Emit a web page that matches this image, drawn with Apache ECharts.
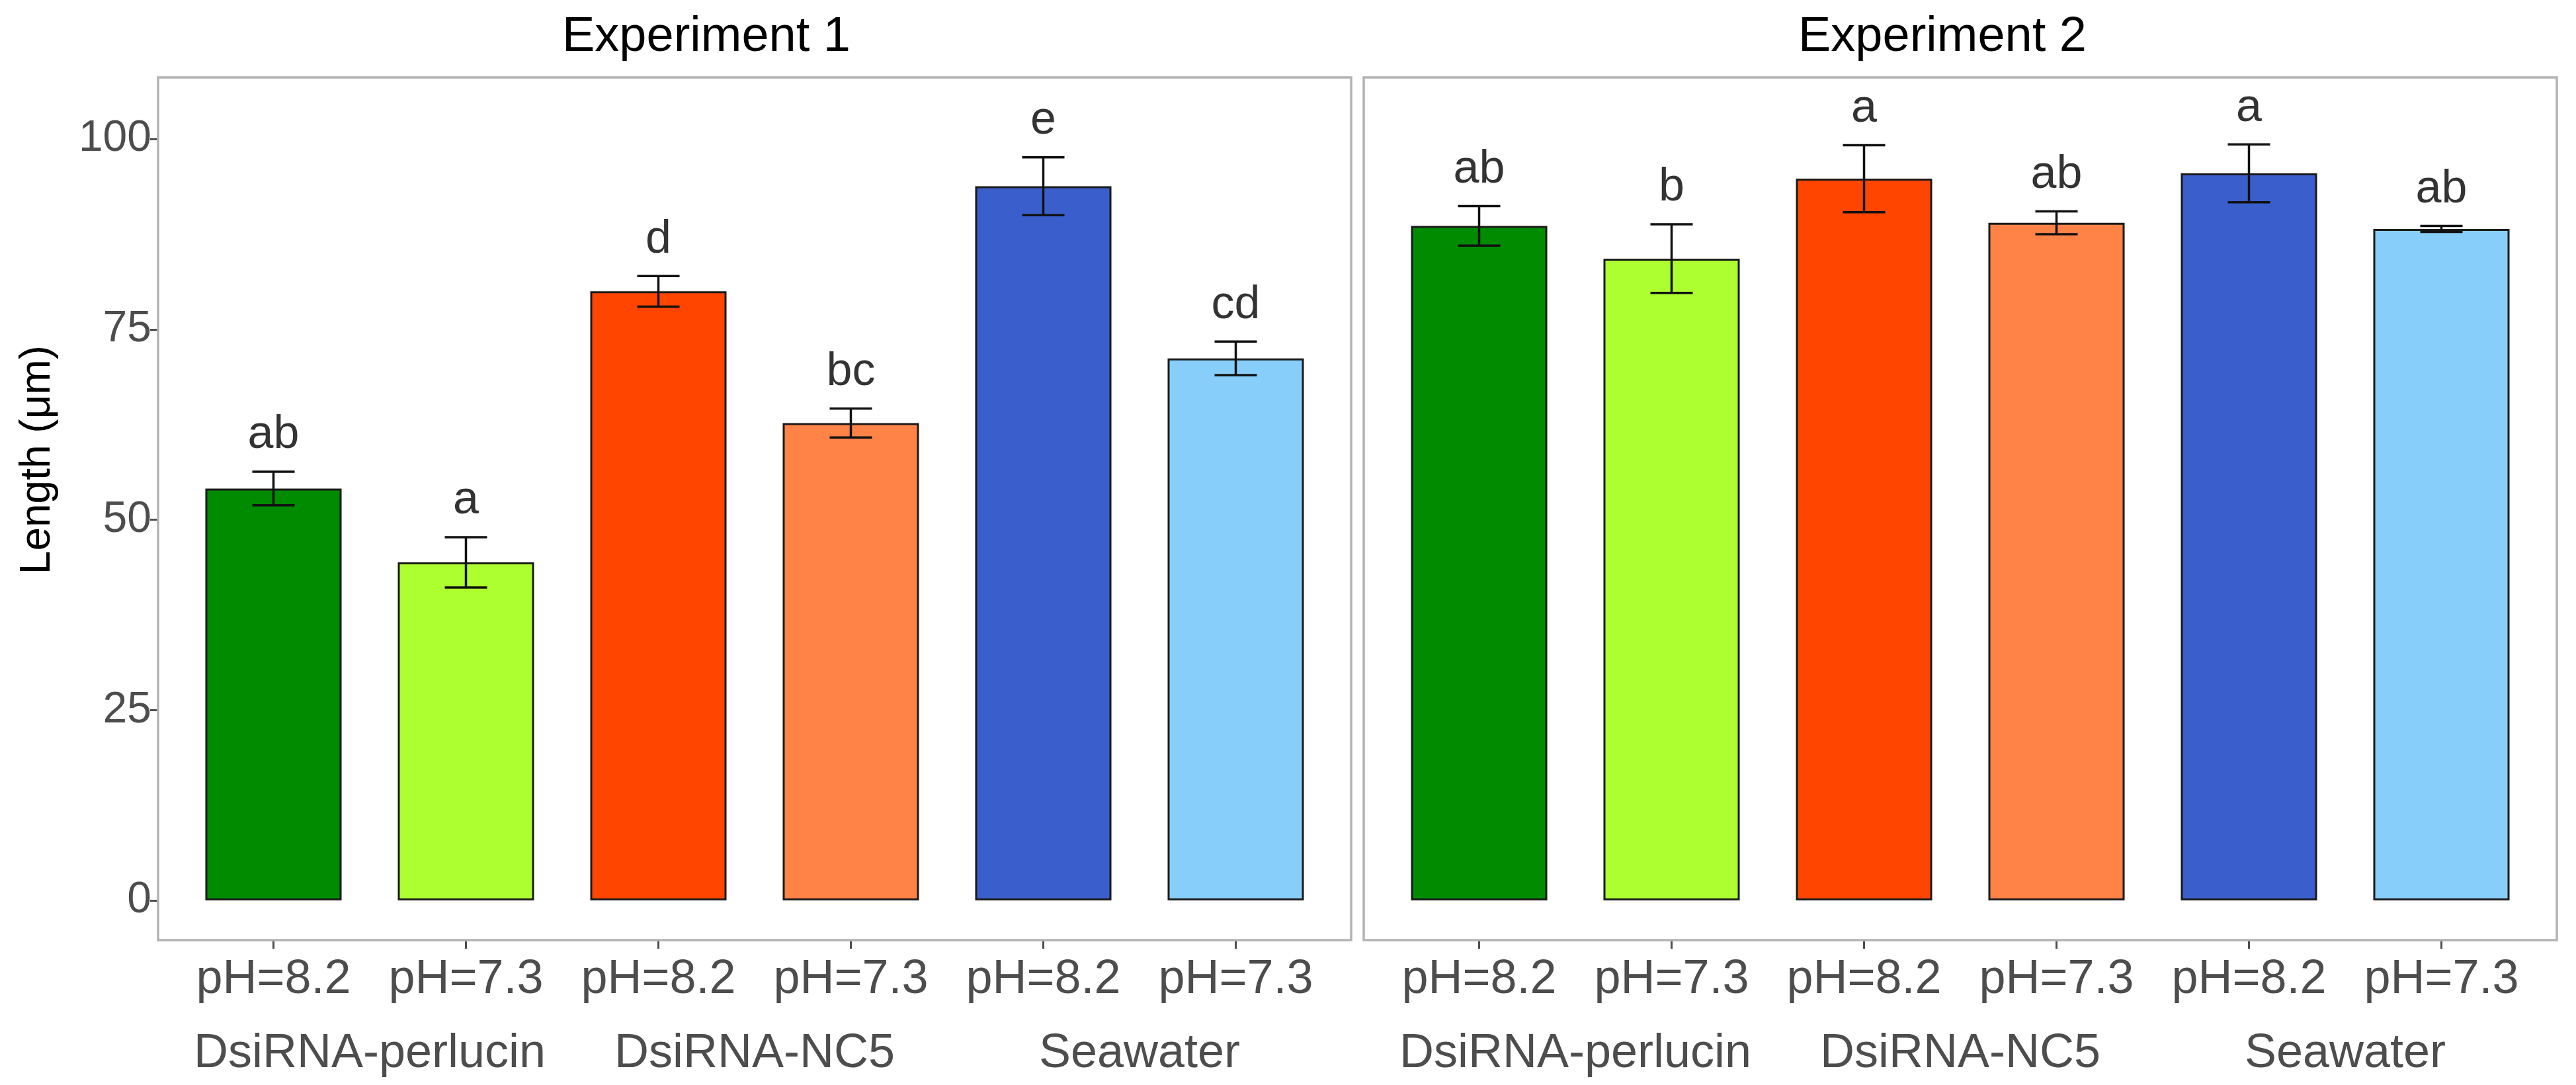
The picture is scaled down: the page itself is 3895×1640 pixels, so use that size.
<!DOCTYPE html>
<html>
<head>
<meta charset="utf-8">
<script src="https://cdn.jsdelivr.net/npm/echarts@6/dist/echarts.min.js"></script>
<style>
  html, body { margin: 0; padding: 0; background: #fff; }
  #main { width: 3895px; height: 1640px; }
</style>
</head>
<body>
<div id="main"></div>
<script>
// data
const phLabels = ['pH=8.2', 'pH=7.3', 'pH=8.2', 'pH=7.3', 'pH=8.2', 'pH=7.3'];
const groupLabels = ['DsiRNA-perlucin', 'DsiRNA-NC5', 'Seawater'];
const yTicks = [0, 25, 50, 75, 100];

const exp1Mean = [54.1, 44.4, 80.0, 62.7, 93.8, 71.2];
const exp1Se = [2.2, 3.3, 2.0, 1.9, 3.8, 2.2];
const exp1Letters = ['ab', 'a', 'd', 'bc', 'e', 'cd'];

const exp2Mean = [88.6, 84.3, 94.8, 89.0, 95.5, 88.2];
const exp2Se = [2.6, 4.5, 4.4, 1.5, 3.8, 0.4];
const exp2Letters = ['ab', 'b', 'a', 'ab', 'a', 'ab'];

const barColors = ['#008B00', '#ADFF2F', '#FF4500', '#FF8247', '#3A5FCD', '#87CEFA'];

const FONT = '"Liberation Sans", Arial, sans-serif';
const chart = echarts.init(document.getElementById('main'), null, { renderer: 'canvas' });

const grids = [
  { left: 268, top: 117, width: 1746, height: 1244 },
  { left: 2091, top: 117, width: 1746, height: 1244 }
];

function xAxesFor(g) {
  return [
    {
      type: 'category', gridIndex: g, data: phLabels, position: 'bottom', offset: 60,
      axisLine: { show: false, onZero: false },
      axisTick: { show: true, length: 13, alignWithLabel: true, lineStyle: { color: '#4d4d4d', width: 3 } },
      axisLabel: { color: '#4d4d4d', fontSize: 72, fontFamily: FONT, margin: 24, interval: 0 }
    },
    {
      type: 'category', gridIndex: g, data: groupLabels, position: 'bottom', offset: 60,
      axisLine: { show: false, onZero: false }, axisTick: { show: false },
      axisLabel: { color: '#4d4d4d', fontSize: 72, fontFamily: FONT, margin: 136, interval: 0 }
    }
  ];
}

function yAxisFor(g) {
  return {
    type: 'value', gridIndex: g, min: 0, max: 108.1, interval: 25,
    offset: 29, show: g === 0,
    splitLine: { show: false },
    axisLine: { show: false, onZero: false },
    axisTick: { show: true, length: 12, lineStyle: { color: '#4d4d4d', width: 3 } },
    axisLabel: {
      color: '#4d4d4d', fontSize: 66, fontFamily: FONT, margin: 10,
      showMaxLabel: false,
      formatter: v => (yTicks.indexOf(v) >= 0 ? String(v) : '')
    }
  };
}

function seriesFor(g, means, ses, letters) {
  const xi = g * 2;
  return [
    {
      type: 'bar', xAxisIndex: xi, yAxisIndex: g, barWidth: '70.8%',
      data: means.map((m, i) => ({
        value: m,
        itemStyle: { color: barColors[i], borderColor: '#1a1a1a', borderWidth: 3 }
      })),
      silent: true
    },
    {
      type: 'custom', xAxisIndex: xi, yAxisIndex: g,
      data: means.map((m, i) => [i, m - ses[i], m + ses[i]]),
      renderItem: function (params, api) {
        const lo = api.coord([api.value(0), api.value(1)]);
        const hi = api.coord([api.value(0), api.value(2)]);
        const half = api.size([1, 0])[0] * 0.11;
        const st = { stroke: '#111', lineWidth: 3.5 };
        return {
          type: 'group',
          children: [
            { type: 'line', shape: { x1: lo[0], y1: lo[1], x2: hi[0], y2: hi[1] }, style: st },
            { type: 'line', shape: { x1: lo[0] - half, y1: lo[1], x2: lo[0] + half, y2: lo[1] }, style: st },
            { type: 'line', shape: { x1: hi[0] - half, y1: hi[1], x2: hi[0] + half, y2: hi[1] }, style: st }
          ]
        };
      },
      z: 5
    },
    {
      type: 'scatter', xAxisIndex: xi, yAxisIndex: g, symbolSize: 0,
      data: means.map((m, i) => [i, m + ses[i]]),
      label: {
        show: true, position: 'top', distance: 20,
        color: '#000', fontSize: 70, fontFamily: FONT,
        formatter: p => letters[p.dataIndex]
      },
      silent: true
    }
  ];
}

const panelBorder = (x, w) => ({
  type: 'rect', silent: true, z: 10,
  shape: { x: x, y: 117, width: w, height: 1304 },
  style: { fill: null, stroke: '#b3b3b3', lineWidth: 3.5 }
});

chart.setOption({
  backgroundColor: '#ffffff',
  animation: false,
  grid: grids,
  xAxis: xAxesFor(0).concat(xAxesFor(1)),
  yAxis: [yAxisFor(0), yAxisFor(1)],
  series: seriesFor(0, exp1Mean, exp1Se, exp1Letters).concat(seriesFor(1, exp2Mean, exp2Se, exp2Letters)),
  graphic: [
    panelBorder(239, 1804),
    panelBorder(2062, 1804),
    {
      type: 'text', x: 1068, y: 57, silent: true,
      style: { text: 'Experiment 1', fill: '#000', font: '74px ' + FONT, align: 'center', verticalAlign: 'middle' }
    },
    {
      type: 'text', x: 2937, y: 57, silent: true,
      style: { text: 'Experiment 2', fill: '#000', font: '74px ' + FONT, align: 'center', verticalAlign: 'middle' }
    },
    {
      type: 'text', x: 57, y: 695, rotation: Math.PI / 2, silent: true,
      style: { text: 'Length (μm)', fill: '#000', font: '64px ' + FONT, align: 'center', verticalAlign: 'middle' }
    }
  ]
});
</script>
</body>
</html>
